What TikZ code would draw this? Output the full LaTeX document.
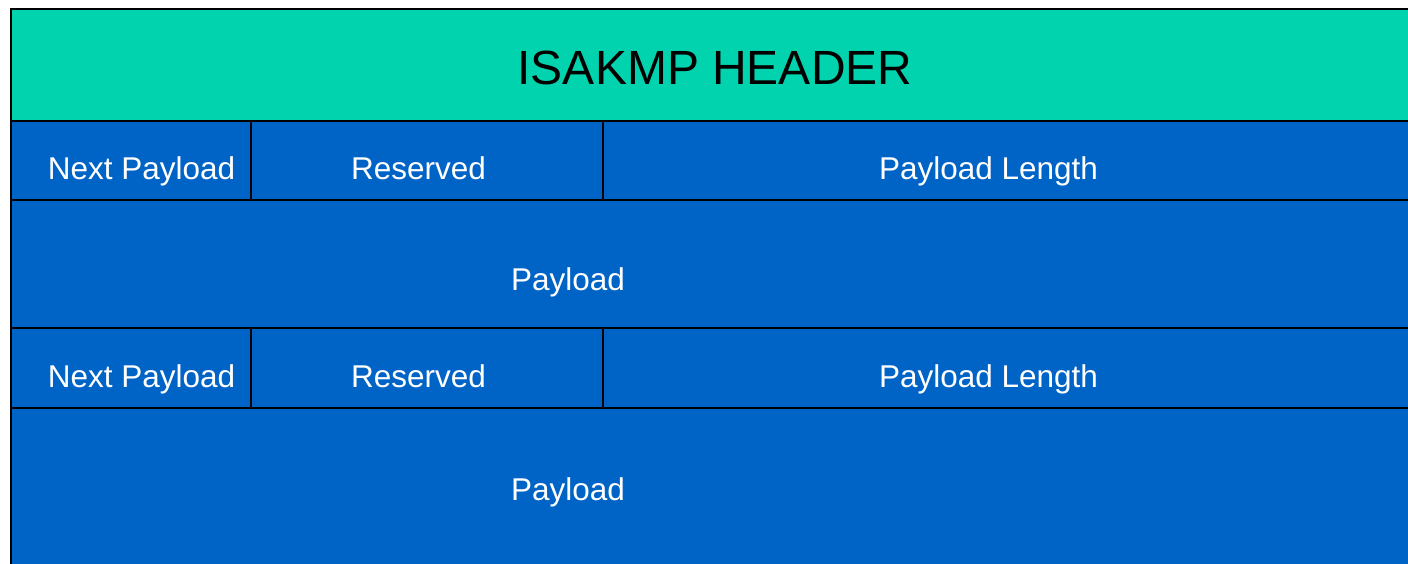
\documentclass[tikz,border=0pt]{standalone}
\usepackage{fontspec}
\setmainfont{Liberation Sans}
\usetikzlibrary{positioning}
\definecolor{hdrteal}{RGB}{0,211,174}
\definecolor{fieldblue}{RGB}{0,99,198}

\begin{document}
\begin{tikzpicture}[
  x=1pt, y=-1pt,
  title/.style={font=\fontsize{48}{54}\selectfont, text=black, inner sep=0pt, anchor=base},
  field/.style={font=\fontsize{31.5}{36}\selectfont, text=white, inner sep=0pt, anchor=base},
  rule/.style={draw=black, line width=2pt, line cap=rect}
]
  \useasboundingbox (0,0) rectangle (1408,564);
  \clip (0,0) rectangle (1408,564);
  % Header band on top, the payload chain below it in blue.
  \path[fill=hdrteal] (11,9) rectangle (1420,121);
  \path[fill=fieldblue] (11,121) rectangle (1420,570);
  \draw[rule] (1420,9) -- (11,9) -- (11,570);
  \foreach \y in {121,200,328,408}
    {\draw[rule] (11,\y) -- (1420,\y);}
  \foreach \t/\b in {121/200,328/408}
    {\draw[rule] (251,\t) -- (251,\b);
     \draw[rule] (603,\t) -- (603,\b);}

  \node[title] (hdr) at (715,85) {ISAKMP HEADER};

  \node[field] (next1) at (141.5,179.5) {Next Payload};
  \node[field] (resv1) at (418.5,179.5) {Reserved};
  \node[field] (plen1) at (988.5,179.5) {Payload Length};
  \node[field] (body1) at (568,290.5) {Payload};

  \node[field] (next2) at (141.5,387.5) {Next Payload};
  \node[field] (resv2) at (418.5,387.5) {Reserved};
  \node[field] (plen2) at (988.5,387.5) {Payload Length};
  \node[field] (body2) at (568,500) {Payload};
\end{tikzpicture}
\end{document}
